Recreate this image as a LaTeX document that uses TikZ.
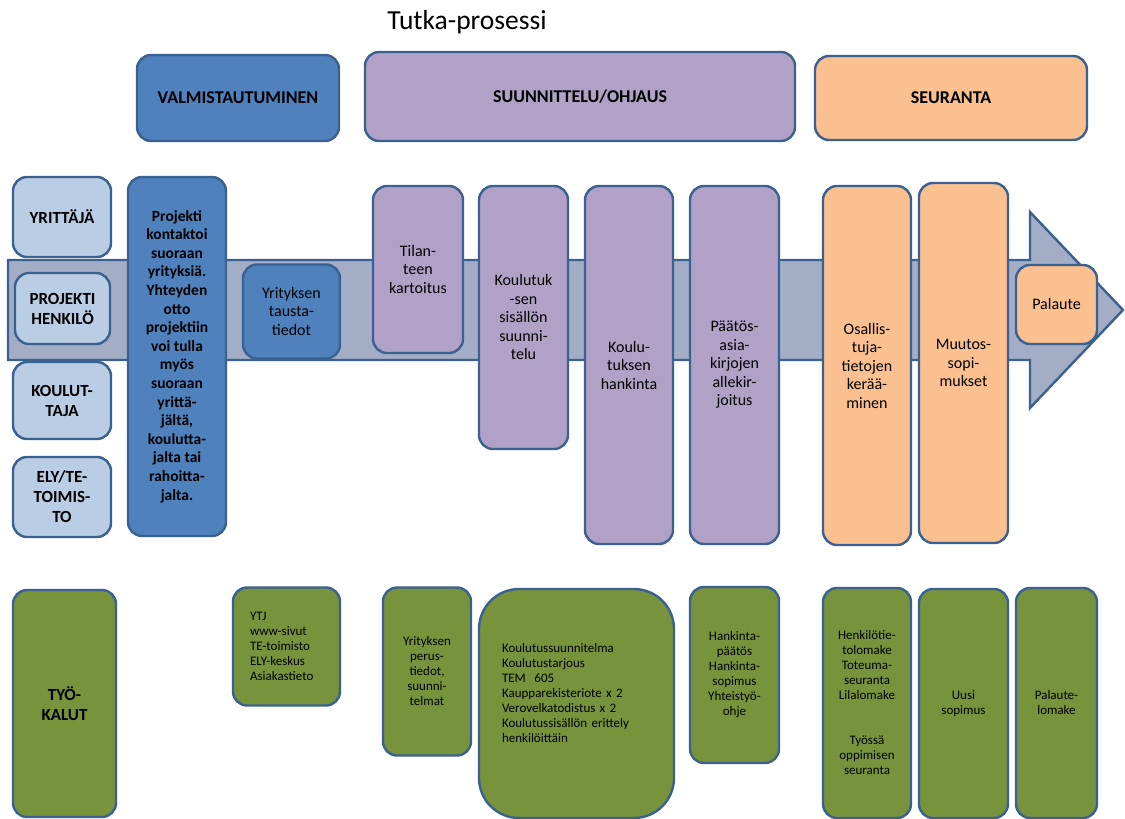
\documentclass[tikz,border=0pt]{standalone}
\usepackage{fontspec}
\setmainfont{Carlito}
\definecolor{bord}{HTML}{3B6190}
\definecolor{dblue}{HTML}{4F81BD}
\definecolor{lblue}{HTML}{B9CDE5}
\definecolor{purp}{HTML}{B2A1C7}
\definecolor{orng}{HTML}{FAC090}
\definecolor{grn}{HTML}{77933C}
\definecolor{arr}{HTML}{A4ADC6}
\newcommand\fTitle{\fontsize{27.5}{32}\selectfont}
\newcommand\fHdr{\fontsize{18}{21}\selectfont\bfseries}
\newcommand\fLeft{\fontsize{17}{20}\selectfont\bfseries}
\newcommand\fBlue{\fontsize{15.5}{18.6}\selectfont\bfseries}
\newcommand\fReg{\fontsize{16}{18.5}\selectfont}
\newcommand\fGrn{\fontsize{13}{15}\selectfont}
\tikzset{
  basebox/.style={draw=bord, line width=2.4pt, rounded corners=14pt, align=center, inner sep=2pt, text=black},
  hdr/.style={basebox, font=\fHdr},
  lft/.style={basebox, fill=lblue, font=\fLeft},
  blu/.style={basebox, fill=dblue},
  pur/.style={basebox, fill=purp, font=\fReg},
  org/.style={basebox, fill=orng, font=\fReg},
  grnbox/.style={basebox, fill=grn, font=\fGrn},
  arrowbody/.style={draw=bord, line width=2.4pt, fill=arr, line join=miter}
}
\begin{document}
\begin{tikzpicture}[x=1pt,y=-1pt]
\useasboundingbox (0,0) rectangle (1125,819);
\fill[white] (0,0) rectangle (1125,819);

% title
\node[font=\fTitle] (title) at (467,22) {Tutka-prosessi};

% headers
\node[hdr, fill=dblue, minimum width=202, minimum height=86] (h1) at (238,98) {VALMISTAUTUMINEN};
\node[hdr, fill=purp, minimum width=430, minimum height=89] (h2) at (580,96.5) {SUUNNITTELU/OHJAUS};
\node[hdr, fill=orng, minimum width=272, minimum height=84] (h3) at (951,98) {SEURANTA};

% big arrow
\draw[arrowbody] (8,260) -- (1030,260) -- (1030,212) -- (1123,310) -- (1030,408) -- (1030,360) -- (8,360) -- cycle;

% left column
\node[lft, minimum width=98, minimum height=80] (l1) at (62,217) {YRITTÄJÄ};
\node[lft, minimum width=95, minimum height=71] (l2) at (62.5,308.5) {PROJEKTI\\HENKILÖ};
\node[lft, minimum width=98, minimum height=77] (l3) at (62,400.5) {KOULUT-\\TAJA};
\node[lft, minimum width=98, minimum height=80] (l4) at (62,497) {ELY/TE-\\TOIMIS-\\TO};

% blue
\node[blu, font=\fBlue, minimum width=98, minimum height=359] (b1) at (177,356.5)
  {Projekti\\kontaktoi\\suoraan\\yrityksiä.\\Yhteyden\\otto\\projektiin\\voi tulla\\myös\\suoraan\\yrittä-\\jältä,\\koulutta-\\jalta tai\\rahoitta-\\jalta.};
\node[blu, font=\fReg, minimum width=97, minimum height=94] (b2) at (291.5,311.5) {Yrityksen\\tausta-\\tiedot};

% purple
\node[pur, minimum width=90, minimum height=167] (p1) at (418,269.5) {Tilan-\\teen\\kartoitus};
\node[pur, minimum width=89, minimum height=263] (p2) at (523.5,317.5) {Koulutuk\\-sen\\sisällön\\suunni-\\telu};
\node[pur, minimum width=88, minimum height=358] (p3) at (629,365) {Koulu-\\tuksen\\hankinta};
\node[pur, minimum width=89, minimum height=358] (p4) at (734.5,365) {Päätös-\\asia-\\kirjojen\\allekir-\\joitus};

% orange
\node[org, minimum width=88, minimum height=359] (o1) at (867,365.5) {Osallis-\\tuja-\\tietojen\\kerää-\\minen};
\node[org, minimum width=89, minimum height=360] (o2) at (963.5,363) {Muutos-\\sopi-\\mukset};
\node[org, minimum width=81, minimum height=79] (o3) at (1056.5,304.5) {Palaute};

% green
\node[grnbox, font=\fLeft, minimum width=103, minimum height=227] (g1) at (64.5,703.5) {TYÖ-\\KALUT};
\node[grnbox, minimum width=107, minimum height=118, text width=73pt, align=left, inner xsep=17pt] (g2) at (286.5,646.5) {YTJ\\www-sivut\\TE-toimisto\\ELY-keskus\\Asiakastieto};
\node[grnbox, minimum width=88, minimum height=168] (g3) at (427,671.5) {Yrityksen\\perus-\\tiedot,\\suunni-\\telmat};
\node[grnbox, rounded corners=40pt, minimum width=195, minimum height=229] (g4) at (576.5,703.5) {};
\node[font=\fGrn, text width=149pt, align=left, inner sep=0pt] (g4t) at (576.5,693.5) {Koulutussuunnitelma\\Koulutustarjous\\TEM\ \ 605\\Kaupparekisteriote x 2\\Verovelkatodistus x 2\\Koulutussisällön erittely\\henkilöittäin};
\node[grnbox, minimum width=89, minimum height=176] (g5) at (734.5,675) {Hankinta-\\päätös\\Hankinta-\\sopimus\\Yhteistyö-\\ohje};
\node[grnbox, minimum width=88, minimum height=230] (g6) at (867,703) {Henkilötie-\\tolomake\\Toteuma-\\seuranta\\Lilalomake\\[30pt]Työssä\\oppimisen\\seuranta};
\node[grnbox, minimum width=89, minimum height=229] (g7) at (963.5,703.5) {Uusi\\sopimus};
\node[grnbox, minimum width=81, minimum height=230] (g8) at (1056.5,703) {Palaute-\\lomake};
\end{tikzpicture}
\end{document}
